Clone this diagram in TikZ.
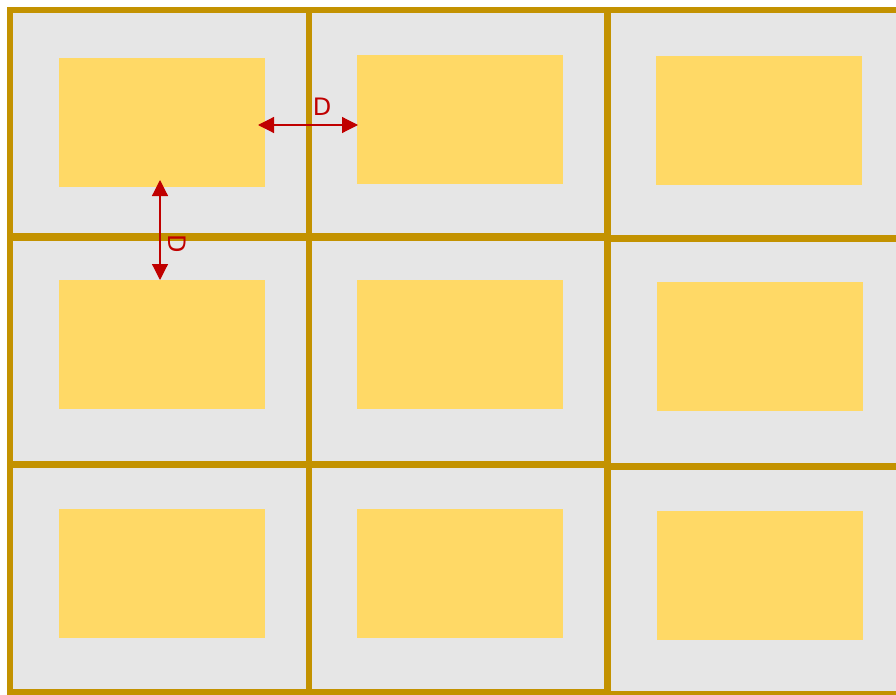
\documentclass[tikz,border=0pt]{standalone}
\usepackage{fontspec}
\setmainfont{DejaVu Sans}
\usetikzlibrary{arrows.meta}
\definecolor{cellgold}{RGB}{195,146,0}
\definecolor{cellgray}{RGB}{230,230,230}
\definecolor{padyellow}{RGB}{255,217,102}
\definecolor{dimred}{RGB}{192,0,0}
\tikzset{
  cell/.style={fill=cellgray,draw=cellgold,line width=6.5pt},
  pad/.style={fill=padyellow,draw=none,inner sep=0pt,minimum width=206pt,minimum height=129pt},
  dim/.style={draw=dimred,line width=1.2pt,{Triangle[length=16pt,width=16pt]}-{Triangle[length=16pt,width=16pt]}},
  dimlabel/.style={text=dimred,inner sep=0pt,font=\fontsize{24}{28}\selectfont}
}
\begin{document}
\begin{tikzpicture}[x=1pt,y=-1pt]
\clip (0,0) rectangle (896,695);
\fill[white] (0,0) rectangle (896,695);
\filldraw[cell] (10,10) rectangle (309,236);
\filldraw[cell] (309,10) rectangle (607,236);
\filldraw[cell] (608,10) rectangle (910,238);
\filldraw[cell] (10,238) rectangle (309,464);
\filldraw[cell] (309,238) rectangle (607,464);
\filldraw[cell] (608,239) rectangle (910,466);
\filldraw[cell] (10,465) rectangle (309,692);
\filldraw[cell] (309,465) rectangle (607,692);
\filldraw[cell] (608,467) rectangle (910,694);
\node[pad] (p11) at (162,122.5) {};
\node[pad] (p12) at (460,119.5) {};
\node[pad] (p13) at (759,120.5) {};
\node[pad] (p21) at (162,344.5) {};
\node[pad] (p22) at (460,344.5) {};
\node[pad] (p23) at (760,346.5) {};
\node[pad] (p31) at (162,573.5) {};
\node[pad] (p32) at (460,573.5) {};
\node[pad] (p33) at (760,575.5) {};
\coordinate (hl) at (258,125);
\coordinate (hr) at (358,125);
\coordinate (vt) at (160,180);
\coordinate (vb) at (160,280);
\draw[dim] (hl) -- (hr);
\draw[dim] (vt) -- (vb);
\node[dimlabel] (dh) at (322,107) {D};
\node[dimlabel,rotate=-90] (dv) at (177,244) {D};
\end{tikzpicture}
\end{document}
